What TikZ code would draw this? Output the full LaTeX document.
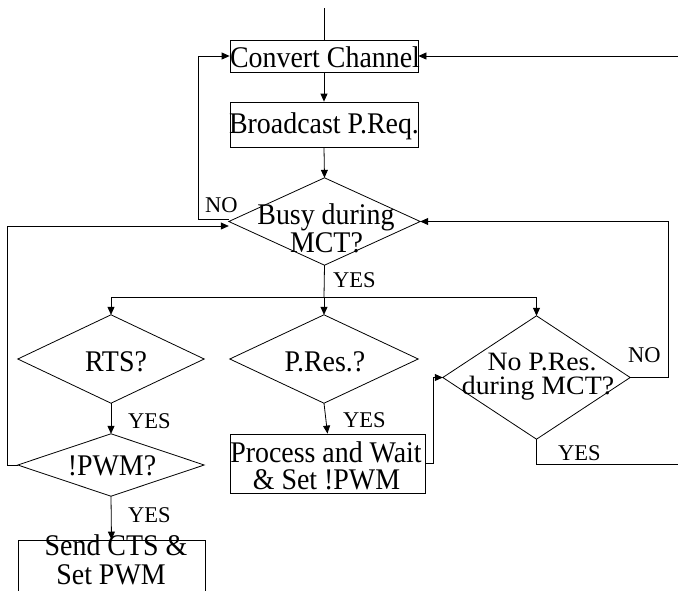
\documentclass[tikz,border=0pt]{standalone}
\usepackage{fontspec}
\setmainfont{Liberation Serif}
\newfontfamily\boxfont{Liberation Serif}[FakeStretch=0.93]
\newfontfamily\widefont{Liberation Serif}[FakeStretch=1.05]
\usetikzlibrary{arrows.meta}

\tikzset{
  flow/.style={line width=0.8pt, draw=black},
  arr/.style={flow, -{Triangle[length=8pt,width=7pt]}},
  frame/.style={rectangle, inner sep=0pt, draw=none},
  boxed/.style={rectangle, inner sep=0pt, flow},
  txt/.style={inner sep=0pt, anchor=base, font=\boxfont\fontsize{30}{27}\selectfont},
  wtxt/.style={inner sep=0pt, anchor=base, font=\widefont\fontsize{26.5}{22}\selectfont},
  lbl/.style={inner sep=0pt, anchor=base west, font=\fontsize{22.5}{22}\selectfont},
}

\begin{document}
\begin{tikzpicture}[x=1pt, y=-1pt]
  \useasboundingbox (0,0) rectangle (678,590);
  \clip (0,0) rectangle (678,590);

  % process boxes
  \node[boxed, minimum width=188pt, minimum height=32pt] (conv) at (324,56) {};
  \node[boxed, minimum width=188pt, minimum height=45pt] (bcast) at (324,124.5) {};
  \node[boxed, minimum width=195pt, minimum height=59pt] (proc) at (327.5,463.5) {};
  \node[boxed, minimum width=187pt, minimum height=56pt] (cts) at (111.5,568) {};

  % decision frames, outlined as diamonds below
  \node[frame, minimum width=191pt, minimum height=87pt] (busy) at (324.5,221.5) {};
  \node[frame, minimum width=186pt, minimum height=88pt] (rts) at (111,359) {};
  \node[frame, minimum width=188pt, minimum height=88pt] (pres) at (324,359) {};
  \node[frame, minimum width=187pt, minimum height=123pt] (nopres) at (536.5,377.5) {};
  \node[frame, minimum width=186pt, minimum height=62pt] (pwm) at (111,465) {};

  \foreach \d in {busy, rts, pres, nopres, pwm}
    \draw[flow] (\d.north) -- (\d.east) -- (\d.south) -- (\d.west) -- cycle;

  % texts
  \node[txt] (conv-t) at (325,67) {Convert Channel};
  \node[txt] (bcast-t) at (324,133) {Broadcast P.Req.};
  \node[txt, text depth=0pt] (busy-t1) at (326,224.5) {Busy during};
  \node[txt, text height=16pt] (busy-t2) at (326.5,252) {MCT?};
  \node[txt] (rts-t) at (116,371) {RTS?};
  \node[txt] (pres-t) at (325,371) {P.Res.?};
  \node[wtxt, text depth=0pt] (nopres-t1) at (542,370) {No P.Res.};
  \node[wtxt, text height=14pt] (nopres-t2) at (538,394.5) {during MCT?};
  \node[txt] (pwm-t) at (112,475) {!PWM?};
  \node[txt, text depth=0pt] (proc-t1) at (326,462) {Process and Wait};
  \node[txt, text height=16pt] (proc-t2) at (326.5,489) {\&\ Set !PWM};
  \node[txt, text depth=0pt] (cts-t1) at (116,555.5) {Send CTS \&};
  \node[txt, text height=16pt] (cts-t2) at (111,584) {Set PWM};

  % branch labels
  \node[lbl] (yes-busy) at (333,287) {YES};
  \node[lbl] (yes-rts) at (128,428) {YES};
  \node[lbl] (yes-pwm) at (128,522) {YES};
  \node[lbl] (yes-pres) at (343,427) {YES};
  \node[lbl] (yes-nopres) at (558,460) {YES};
  \node[lbl] (no-busy) at (205,212) {NO};
  \node[lbl] (no-nopres) at (628,362) {NO};

  % free ends
  \coordinate (in-top) at (324,8);
  \coordinate (in-right) at (678,56);
  \coordinate (out-right) at (678,464);
  \coordinate (br) at (324,297);

  % main column
  \draw[flow] (in-top) -- (conv.north);
  \draw[arr] (in-right) -- (conv.east);
  \draw[arr] (conv.south) -- (bcast.north);
  \draw[arr] (bcast.south) -- (busy.north);

  % busy: NO back to convert
  \draw[arr] ([yshift=2pt]busy.west) -- ++(-30,0) |- (conv.west);

  % busy: YES fans out
  \draw[flow] (busy.south) -- (br);
  \draw[arr] (br) -| (rts.north);
  \draw[arr] (br) -- (pres.north);
  \draw[arr] (br) -| (nopres.north);

  % left branch
  \draw[arr] (rts.south) -- (pwm.north);
  \draw[arr] (pwm.south) -- (cts.north);
  \draw[arr] (pwm.west) -- ++(-10,0) |- ([yshift=-4.5pt]busy.west);

  % middle branch
  \draw[arr] (pres.south) -- (proc.north);
  \draw[arr] (proc.east) -- ++(8,0) |- (nopres.west);

  % right branch
  \draw[arr] (nopres.east) -- ++(38,0) |- (busy.east);
  \draw[flow] (nopres.south) |- (out-right);
\end{tikzpicture}
\end{document}
